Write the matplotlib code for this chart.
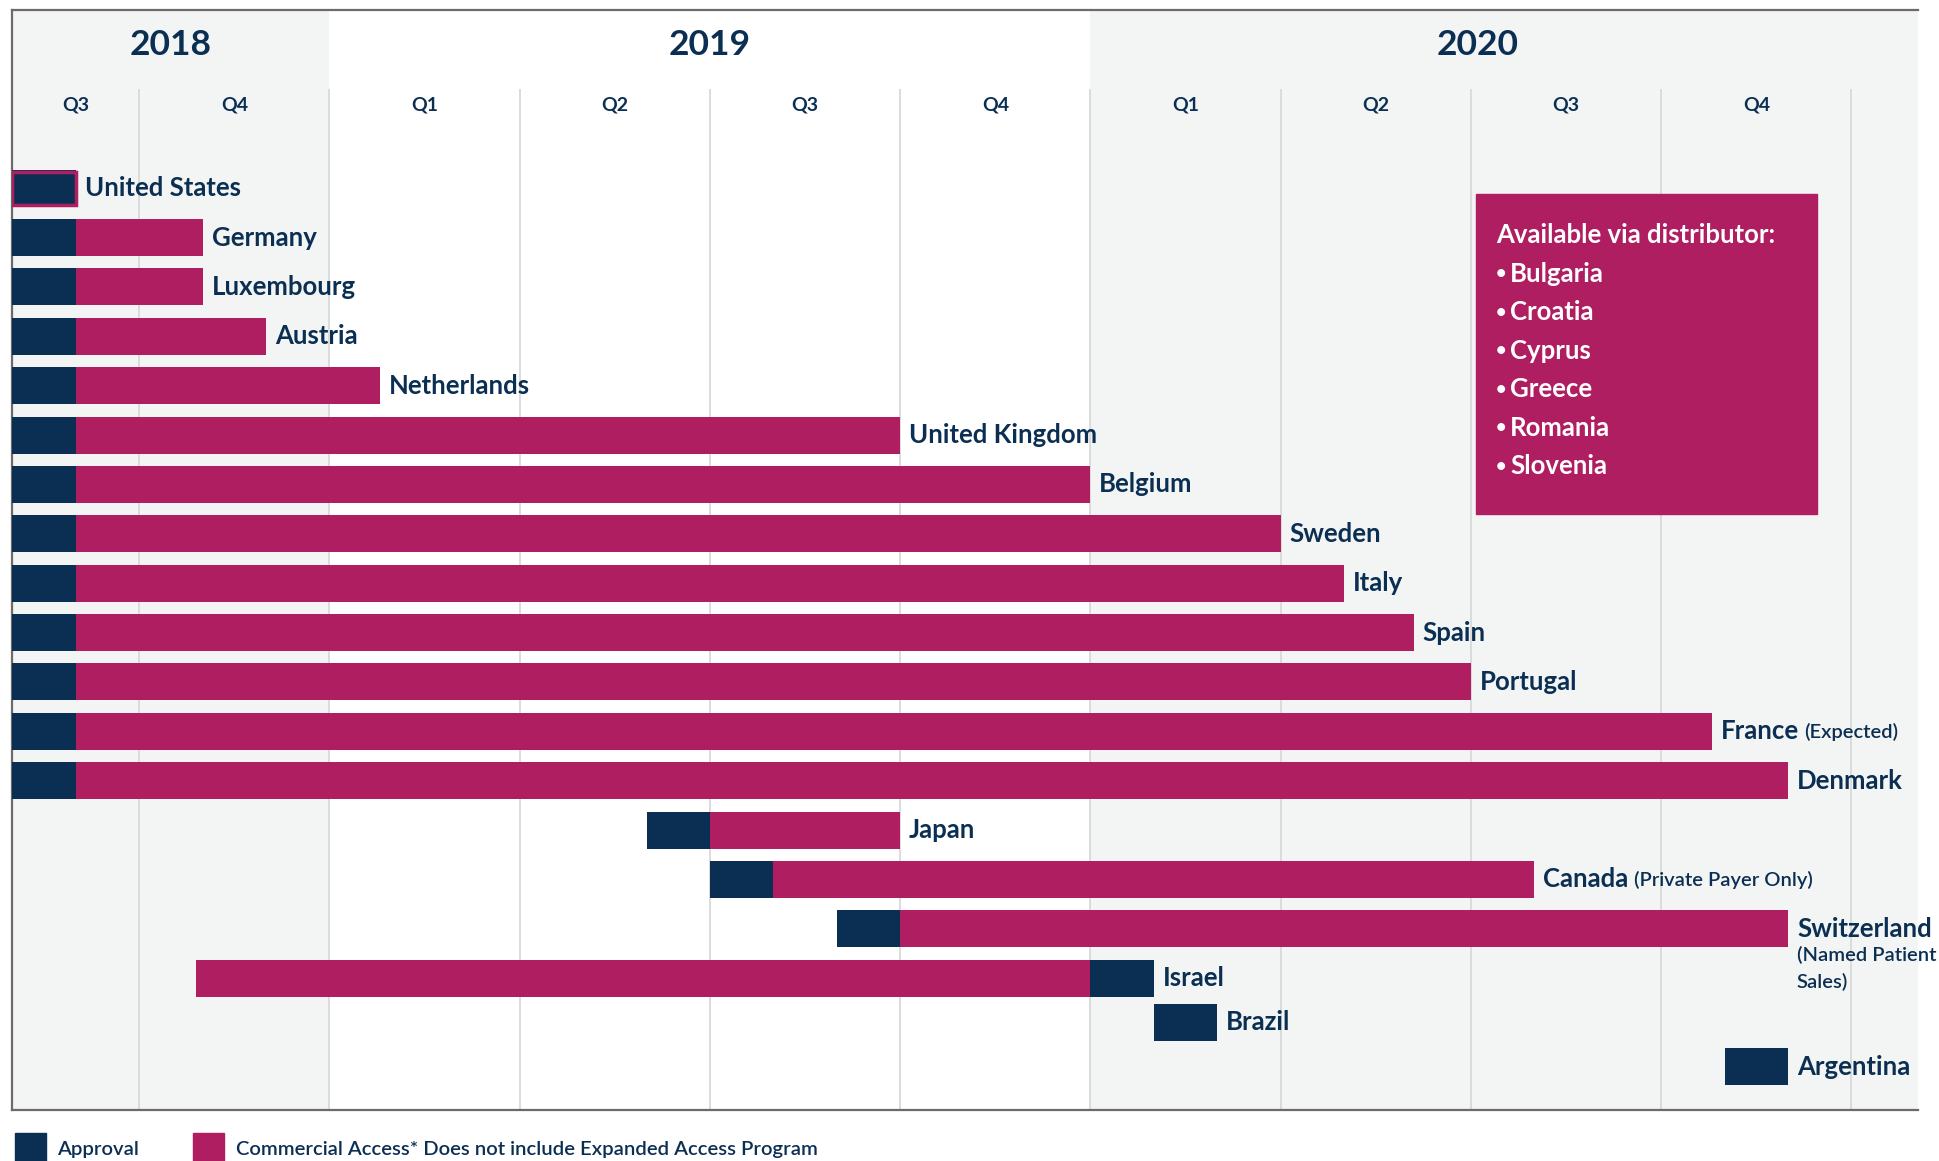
import numpy as np
import matplotlib.pyplot as plt
from matplotlib.patches import Rectangle

plt.rcParams['font.family'] = ['Lato', 'DejaVu Sans']

# months counted from July 2018 (0 = start of 2018 Q3)
countries = ['United States', 'Germany', 'Luxembourg', 'Austria', 'Netherlands',
             'United Kingdom', 'Belgium', 'Sweden', 'Italy', 'Spain', 'Portugal',
             'France', 'Denmark', 'Japan', 'Canada', 'Switzerland', 'Israel',
             'Brazil', 'Argentina']
notes = ['', '', '', '', '', '', '', '', '', '', '', '(Expected)', '', '',
         '(Private Payer Only)', '(Named Patient\nSales)', '', '', '']
approval_start = [1, 1, 1, 1, 1, 1, 1, 1, 1, 1, 1, 1, 1, 11, 12, 14, 18, 19, 28]
approval_end = [2, 2, 2, 2, 2, 2, 2, 2, 2, 2, 2, 2, 2, 12, 13, 15, 19, 20, 29]
access_start = [np.nan, 2, 2, 2, 2, 2, 2, 2, 2, 2, 2, 2, 2, 12, 13, 15, 3.9, np.nan, np.nan]
access_end = [np.nan, 4, 4, 5, 6.8, 15, 18, 21, 22, 23.1, 24, 27.8, 29, 15, 25, 29, 18, np.nan, np.nan]

years = ['2018', '2019', '2020']
year_pos = [3.5, 12, 24.1]
quarters = ['Q3', 'Q4', 'Q1', 'Q2', 'Q3', 'Q4', 'Q1', 'Q2', 'Q3', 'Q4']
distributor = ['Bulgaria', 'Croatia', 'Cyprus', 'Greece', 'Romania', 'Slovenia']

navy = '#0b2f52'
magenta = '#b01e62'
shade = '#f3f4f4'
gridc = '#d6d6d6'

fig = plt.figure(figsize=(19.4, 11.61), dpi=100)
ax = fig.add_axes([0.0064, 0.0439, 0.9823, 0.9475])
xmin, xmax = 1, 31.05
ymin, ymax = -3.61, 18.67
ax.set_xlim(xmin, xmax)
ax.set_ylim(ymax, ymin)

# year shading
ax.axvspan(xmin, 6, color=shade, zorder=0, lw=0)
ax.axvspan(18, xmax, color=shade, zorder=0, lw=0)

# quarter grid
ax.vlines(np.arange(3, 31, 3), -2.0, ymax, color=gridc, lw=1.2, zorder=1)

for yr, xp in zip(years, year_pos):
    ax.text(xp, -2.9, yr, ha='center', va='center', fontsize=25.5,
            fontweight='bold', color=navy)
q_centers = [(xmin + 3) / 2] + [4.5 + 3 * i for i in range(9)]
for q, xp in zip(quarters, q_centers):
    ax.text(xp, -1.68, q, ha='center', va='center', fontsize=14,
            fontweight='bold', color=navy)

h = 0.75
rows = np.arange(len(countries), dtype=float)
rows[-2:] -= [0.11, 0.21]  # last rows sit a little tighter
ax.barh(rows, np.array(access_end) - np.array(access_start), left=access_start,
        height=h, color=magenta, zorder=2)
ax.barh(rows, np.array(approval_end) - np.array(approval_start), left=approval_start,
        height=h, color=navy, zorder=3)
# US: approval and access together
ax.barh(rows[0], approval_end[0] - approval_start[0], left=approval_start[0],
        height=h * 0.88, color=navy, edgecolor=magenta, lw=2.5, zorder=4)

for i, name in enumerate(countries):
    end = np.nanmax([approval_end[i], access_end[i]])
    t = ax.text(end + 0.14, rows[i], name, ha='left', va='center', fontsize=18.5,
                fontweight='bold', color=navy, zorder=5)
    if notes[i] and '\n' not in notes[i]:
        ax.annotate(notes[i], xy=(1, 0), xycoords=t, xytext=(4, 2),
                    textcoords='offset points', ha='left', va='bottom',
                    fontsize=14.5, fontweight='semibold', color=navy)
    elif notes[i]:
        ax.annotate(notes[i], xy=(0, 0), xycoords=t, xytext=(0, -4),
                    textcoords='offset points', ha='left', va='top',
                    fontsize=14.5, fontweight='semibold', color=navy,
                    linespacing=1.6)

# distributor box
ax.add_patch(Rectangle((24.08, 0.125), 5.37, 6.47, color=magenta, zorder=5))
ax.text(24.39, 0.95, 'Available via distributor:', ha='left', va='center',
        fontsize=18.5, fontweight='bold', color='white', zorder=6)
for k, c in enumerate(distributor):
    yk = 0.95 + 0.78 * (k + 1)
    ax.text(24.39, yk, '\u2022', ha='left', va='center', fontsize=13,
            fontweight='bold', color='white', zorder=6)
    ax.text(24.62, yk, c, ha='left', va='center', fontsize=18.5,
            fontweight='bold', color='white', zorder=6)

ax.set_xticks([])
ax.set_yticks([])
for s in ['left', 'top', 'bottom']:
    ax.spines[s].set_color('#6b6b6b')
    ax.spines[s].set_linewidth(1.6)
ax.spines['right'].set_visible(False)

# legend
fig.patches.append(Rectangle((15 / 1940, 0), 31 / 1940, 28 / 1161,
                             transform=fig.transFigure, color=navy))
fig.text(57 / 1940, 12 / 1161, 'Approval', ha='left', va='center',
         fontsize=14.6, fontweight='semibold', color=navy)
fig.patches.append(Rectangle((193 / 1940, 0), 31 / 1940, 28 / 1161,
                             transform=fig.transFigure, color=magenta))
fig.text(236 / 1940, 12 / 1161, 'Commercial Access* Does not include Expanded Access Program',
         ha='left', va='center', fontsize=14.6, fontweight='semibold', color=navy)

fig.savefig('out.png', dpi=100, facecolor='white')
